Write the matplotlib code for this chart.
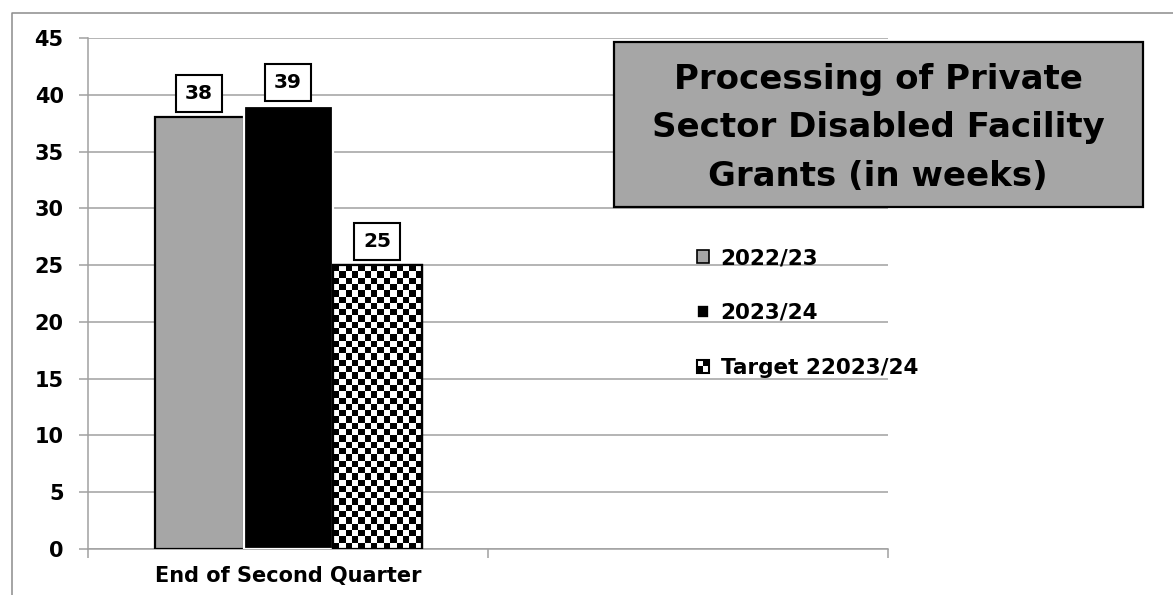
import numpy as np
import matplotlib
matplotlib.use("Agg")
import matplotlib.pyplot as plt
from matplotlib.patches import Rectangle
from matplotlib.lines import Line2D
from matplotlib.legend_handler import HandlerBase

# ---- data ----
categories = ["End of Second Quarter", ""]
series_names = ["2022/23", "2023/24", "Target 22023/24"]
series_values = [38, 39, 25]
title_text = "Processing of Private\nSector Disabled Facility\nGrants (in weeks)"
y_ticks = [0, 5, 10, 15, 20, 25, 30, 35, 40, 45]

GRAY = "#a6a6a6"
GRID = "#a0a0a0"
FONT = "DejaVu Sans"

W, H = 1173, 595
fig = plt.figure(figsize=(W / 100, H / 100), dpi=100)
ax = fig.add_axes([88 / W, 1 - 549 / H, 800 / W, (549 - 38) / H])

bar_w = 0.2225
offsets = [-bar_w, 0.0, bar_w]
x0 = 0

ax.set_xlim(-0.5, 1.5)
ax.set_ylim(0, 45)

bars = []
b = ax.bar(x0 + offsets[0], series_values[0], width=bar_w, color=GRAY,
           edgecolor="black", linewidth=1.6, zorder=3)
bars.append(b[0])
b = ax.bar(x0 + offsets[1], series_values[1], width=bar_w, color="black",
           edgecolor="white", linewidth=1.6, zorder=3)
bars.append(b[0])
b = ax.bar(x0 + offsets[2], series_values[2], width=bar_w, color="white",
           edgecolor="black", linewidth=1.6, zorder=3)
bars.append(b[0])

# checkerboard fill for the target bar
tb = bars[2]
bx, by = tb.get_x(), tb.get_y()
bw, bh = tb.get_width(), tb.get_height()
p0 = ax.transData.transform((bx, by))
p1 = ax.transData.transform((bx + bw, by + bh))
px_w, px_h = abs(p1[0] - p0[0]), abs(p1[1] - p0[1])
cell = 6.2
ncol = max(1, int(round(px_w / cell)))
nrow = max(1, int(round(px_h / (px_w / ncol))))
checker = (np.add.outer(np.arange(nrow), np.arange(ncol)) % 2).astype(float)
img = ax.imshow(checker, cmap="gray", vmin=0, vmax=1, interpolation="nearest",
                extent=(bx, bx + bw, by, by + bh), aspect="auto", zorder=3.5)
img.set_clip_path(tb)
ax.bar(x0 + offsets[2], series_values[2], width=bar_w, color="none",
       edgecolor="black", linewidth=1.6, zorder=4)
ax.set_aspect("auto")
ax.set_xlim(-0.5, 1.5)
ax.set_ylim(0, 45)

# value labels
for bar, v in zip(bars, series_values):
    ax.annotate(f"{v}", xy=(bar.get_x() + bar.get_width() / 2, v),
                xytext=(0, 17), textcoords="offset points",
                ha="center", va="center", fontsize=14.5, fontweight="bold",
                family=FONT, zorder=6,
                bbox=dict(boxstyle="square,pad=0.45", facecolor="white",
                          edgecolor="black", linewidth=1.5))

# axes styling
ax.set_yticks(y_ticks)
ax.set_yticklabels([str(t) for t in y_ticks], fontsize=15, fontweight="bold",
                   family=FONT)
ax.yaxis.grid(True, color=GRID, linewidth=1.1, zorder=0)
ax.set_axisbelow(True)
ax.tick_params(axis="y", direction="out", length=6.5, width=1.1,
               color=GRID, pad=11)

ax.set_xticks([0, 1])
ax.set_xticklabels(categories, fontsize=15, fontweight="bold", family=FONT)
ax.set_xticks([-0.5, 0.5, 1.5], minor=True)
ax.tick_params(axis="x", which="major", length=0, pad=12)
ax.tick_params(axis="x", which="minor", direction="out", length=6.5,
               width=1.1, color=GRID)

for s in ["top", "right"]:
    ax.spines[s].set_visible(False)
for s in ["left", "bottom"]:
    ax.spines[s].set_color(GRID)
    ax.spines[s].set_linewidth(1.1)


# legend
class CheckerHandler(HandlerBase):
    def create_artists(self, legend, orig_handle, xdescent, ydescent,
                       width, height, fontsize, trans):
        arts = []
        hw, hh = width / 2, height / 2
        cols = [["black", "white"], ["white", "black"]]
        for i in range(2):
            for j in range(2):
                r = Rectangle((-xdescent + j * hw, -ydescent + i * hh), hw, hh,
                              facecolor=cols[i][j], edgecolor="none",
                              transform=trans)
                arts.append(r)
        arts.append(Rectangle((-xdescent, -ydescent), width, height,
                              facecolor="none", edgecolor="black",
                              linewidth=1.5, transform=trans))
        return arts


h1 = Rectangle((0, 0), 1, 1, facecolor=GRAY, edgecolor="black", linewidth=1.2)
h2 = Rectangle((0, 0), 1, 1, facecolor="black", edgecolor="white", linewidth=1.2)
h3 = Rectangle((0, 0), 1, 1, facecolor="white", edgecolor="black")
leg = fig.legend([h1, h2, h3], series_names, loc="center left",
                 bbox_to_anchor=(697 / W, 1 - 313 / H),
                 frameon=False, borderpad=0, borderaxespad=0,
                 handlelength=0.55, handleheight=0.55, handletextpad=0.55,
                 labelspacing=1.62,
                 prop=dict(family=FONT, weight="bold", size=15.5),
                 handler_map={h3: CheckerHandler()})

# title box
fig.patches.append(Rectangle((614 / W, 1 - 207 / H), (1143 - 614) / W,
                             (207 - 42) / H, transform=fig.transFigure,
                             facecolor=GRAY, edgecolor="black", linewidth=1.6,
                             zorder=5))
fig.text(878 / W, 1 - 128 / H, title_text, ha="center", va="center",
         fontsize=24.5, fontweight="bold", family=FONT, linespacing=1.58,
         zorder=6)

# outer chart border (top and left edges)
fig.add_artist(Line2D([12 / W, 12 / W, 1.0], [0.0, 1 - 13 / H, 1 - 13 / H],
                      transform=fig.transFigure, color="#8c8c8c",
                      linewidth=1.1))

fig.savefig("out.png", dpi=100)
